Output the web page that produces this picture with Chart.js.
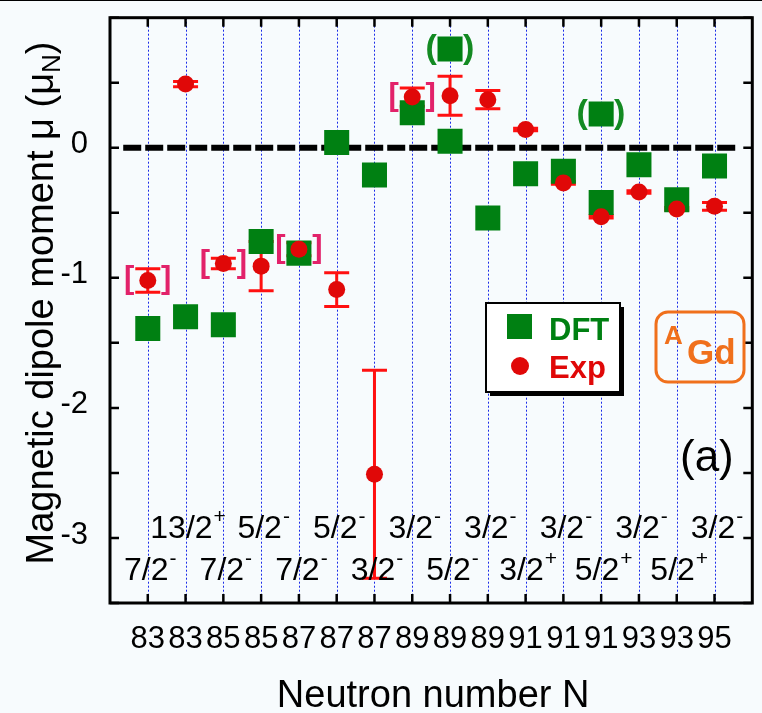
<!DOCTYPE html>
<html>
<head>
<meta charset="utf-8">
<script src="https://cdn.jsdelivr.net/npm/chart.js@4.4.1/dist/chart.umd.min.js"></script>
<style>
  html, body { margin: 0; padding: 0; background: #f7fbfd; overflow: hidden; }
  #wrap { width: 770px; height: 713px; }
</style>
</head>
<body>
<div id="wrap"><canvas id="moments" width="770" height="713"></canvas></div>
<script>
// ── Gd states, one column each along the x axis ──────────────
const neutronN   = [83, 83, 85, 85, 87, 87, 87, 89, 89, 89, 91, 91, 91, 93, 93, 95];
const spinBase   = ["7/2", "13/2", "7/2", "5/2", "7/2", "5/2", "3/2", "3/2", "5/2", "3/2", "3/2", "3/2", "5/2", "3/2", "5/2", "3/2"];
const spinParity = ["-", "+", "-", "-", "-", "-", "-", "-", "-", "-", "+", "-", "+", "-", "+", "-"];

// DFT moments (μN)
const dftMu = [-1.39, -1.30, -1.36, -0.72, -0.81, 0.04, -0.21, 0.27, 0.05, -0.54, -0.20, -0.18, -0.42, -0.13, -0.40, -0.14];
// alternative DFT solutions, shown in parentheses
const dftAltIdx = [8, 12];
const dftAltMu  = [0.76, 0.26];

// measured moments and their uncertainties (μN)
const expMu  = [-1.02, 0.49, -0.89, -0.91, -0.78, -1.09, -2.51, 0.39, 0.40, 0.37, 0.14, -0.27, -0.53, -0.34, -0.47, -0.45];
const expErr = [0.09, 0.02, 0.04, 0.19, 0.05, 0.13, 0.80, 0.07, 0.15, 0.07, 0.01, 0.01, 0.01, 0.01, 0.01, 0.03];
// tentative measurements, shown in square brackets
const bracketIdx = [0, 2, 4, 7];

// dashed μ = 0 reference, x extent in column units
const zeroSpan = [-0.65, 15.62];

const FONT  = '"Liberation Sans", Arial, sans-serif';
const GREEN = "#008012";
const RED   = "#e00808";

function sup(ctx, base, mark, cx, baseY) {
  ctx.font = `32px ${FONT}`;
  const wb = ctx.measureText(base).width;
  ctx.font = `21px ${FONT}`;
  const wm = ctx.measureText(mark).width;
  const x0 = cx - (wb + wm) / 2 + 2;
  ctx.font = `32px ${FONT}`;
  ctx.fillText(base, x0, baseY);
  ctx.font = `21px ${FONT}`;
  ctx.fillText(mark, x0 + wb + 1, baseY - 15);
}

const decorations = {
  id: "decorations",
  beforeDatasetsDraw(chart) {
    const { ctx, chartArea: a, scales: { x, y } } = chart;
    ctx.save();
    // dotted column guides
    ctx.strokeStyle = "#1a2be8";
    ctx.lineWidth = 1;
    ctx.setLineDash([2, 2]);
    neutronN.forEach((_, i) => {
      const px = Math.round(x.getPixelForValue(i)) + 0.5;
      ctx.beginPath();
      ctx.moveTo(px, a.top);
      ctx.lineTo(px, a.bottom);
      ctx.stroke();
    });
    ctx.setLineDash([]);
    // experimental error bars
    ctx.strokeStyle = "#ff1010";
    ctx.lineWidth = 3;
    expMu.forEach((v, i) => {
      const px = x.getPixelForValue(i);
      const hi = y.getPixelForValue(v + expErr[i]);
      const lo = y.getPixelForValue(v - expErr[i]);
      ctx.beginPath();
      ctx.moveTo(px, hi); ctx.lineTo(px, lo);
      ctx.moveTo(px - 12.5, hi); ctx.lineTo(px + 12.5, hi);
      ctx.moveTo(px - 12.5, lo); ctx.lineTo(px + 12.5, lo);
      ctx.stroke();
    });
    ctx.restore();
  },
  afterDatasetsDraw(chart) {
    const { ctx, scales: { x, y } } = chart;
    ctx.save();
    ctx.textAlign = "center";
    ctx.textBaseline = "alphabetic";
    ctx.font = `bold 31px ${FONT}`;
    ctx.fillStyle = "#e2226a";
    bracketIdx.forEach(i => {
      const px = x.getPixelForValue(i), py = y.getPixelForValue(expMu[i]) + 8;
      ctx.fillText("[", px - 18.5, py);
      ctx.fillText("]", px + 18.5, py);
    });
    ctx.font = `bold 34px ${FONT}`;
    ctx.fillStyle = "#138a22";
    dftAltIdx.forEach((i, k) => {
      const px = x.getPixelForValue(i), py = y.getPixelForValue(dftAltMu[k]) + 9;
      ctx.fillText("(", px - 19, py);
      ctx.fillText(")", px + 18.5, py);
    });
    ctx.restore();
  },
  afterDraw(chart) {
    const { ctx, chartArea: a, scales: { x, y } } = chart;
    ctx.save();
    ctx.fillStyle = "#000";
    ctx.fillRect(0, 0, chart.width, 1);

    // frame
    ctx.strokeStyle = "#000";
    ctx.lineWidth = 3;
    ctx.strokeRect(a.left, a.top, a.right - a.left, a.bottom - a.top);

    // inward ticks
    ctx.lineWidth = 2.5;
    ctx.beginPath();
    neutronN.forEach((_, i) => {
      const px = x.getPixelForValue(i);
      ctx.moveTo(px, a.top); ctx.lineTo(px, a.top + 9);
      ctx.moveTo(px, a.bottom); ctx.lineTo(px, a.bottom - 9);
    });
    y.ticks.forEach(t => {
      const py = y.getPixelForValue(t.value);
      ctx.moveTo(a.left, py); ctx.lineTo(a.left + 9, py);
      ctx.moveTo(a.right, py); ctx.lineTo(a.right - 9, py);
    });
    ctx.stroke();

    // spin-parity labels, alternating rows
    ctx.fillStyle = "#000";
    ctx.textAlign = "left";
    spinBase.forEach((s, i) => {
      sup(ctx, s, spinParity[i], x.getPixelForValue(i), i % 2 ? 538 : 580);
    });

    // axis titles
    ctx.textAlign = "center";
    ctx.font = `38px ${FONT}`;
    ctx.fillText("Neutron number N", (a.left + a.right) / 2 + 2, 707);

    ctx.save();
    ctx.translate(53, 303);
    ctx.rotate(-Math.PI / 2);
    ctx.textAlign = "left";
    const head = "Magnetic dipole moment μ (μ";
    ctx.font = `38px ${FONT}`;
    const wh = ctx.measureText(head).width;
    const wt = ctx.measureText(")").width;
    ctx.font = `26px ${FONT}`;
    const wn = ctx.measureText("N").width;
    const x0 = -(wh + wn + wt) / 2;
    ctx.font = `38px ${FONT}`;
    ctx.fillText(head, x0, 0);
    ctx.fillText(")", x0 + wh + wn, 0);
    ctx.font = `26px ${FONT}`;
    ctx.fillText("N", x0 + wh, 7);
    ctx.restore();

    // legend
    ctx.fillStyle = "#000";
    ctx.fillRect(490, 307, 134, 89);
    ctx.fillStyle = "#ffffff";
    ctx.fillRect(486, 303, 134, 89);
    ctx.lineWidth = 2;
    ctx.strokeRect(486, 303, 134, 89);
    ctx.fillStyle = GREEN;
    ctx.fillRect(507, 314, 25, 25);
    ctx.fillStyle = RED;
    ctx.beginPath();
    ctx.arc(520, 366, 9, 0, Math.PI * 2);
    ctx.fill();
    ctx.textAlign = "left";
    ctx.font = `bold 31px ${FONT}`;
    ctx.fillStyle = GREEN;
    ctx.fillText("DFT", 549, 340);
    ctx.fillStyle = RED;
    ctx.fillText("Exp", 549, 378);

    // isotope tag
    ctx.strokeStyle = "#f0701c";
    ctx.lineWidth = 3;
    ctx.beginPath();
    ctx.roundRect(656, 312, 88, 70, 12);
    ctx.stroke();
    ctx.fillStyle = "#f0701c";
    ctx.font = `bold 26px ${FONT}`;
    ctx.fillText("A", 664, 344);
    ctx.font = `bold 35px ${FONT}`;
    ctx.fillText("Gd", 687, 364);

    // panel tag
    ctx.fillStyle = "#000";
    ctx.font = `44px ${FONT}`;
    ctx.fillText("(a)", 680, 471);
    ctx.restore();
  },
};

new Chart(document.getElementById("moments"), {
  type: "scatter",
  data: {
    datasets: [
      {
        label: "Exp",
        data: expMu.map((v, i) => ({ x: i, y: v })),
        pointStyle: "circle",
        pointRadius: 8.5,
        backgroundColor: RED,
        borderWidth: 0,
        order: 1,
      },
      {
        label: "DFT",
        data: dftMu.map((v, i) => ({ x: i, y: v }))
          .concat(dftAltIdx.map((i, k) => ({ x: i, y: dftAltMu[k] }))),
        pointStyle: "rect",
        pointRadius: 17.7,
        backgroundColor: GREEN,
        borderWidth: 0,
        order: 2,
      },
      {
        type: "line",
        label: "zero",
        data: zeroSpan.map(v => ({ x: v, y: 0 })),
        borderColor: "#000",
        borderWidth: 6,
        borderDash: [18, 4],
        pointRadius: 0,
        order: 3,
      },
    ],
  },
  options: {
    responsive: false,
    animation: false,
    events: [],
    layout: { padding: { top: 16, right: 4, left: 0, bottom: 0 } },
    plugins: { legend: { display: false }, tooltip: { enabled: false } },
    scales: {
      x: {
        type: "linear",
        min: -1,
        max: 16,
        grid: { display: false },
        border: { display: false },
        afterBuildTicks: s => { s.ticks = neutronN.map((_, i) => ({ value: i })); },
        afterFit: s => { s.height = 110; s.paddingLeft = 0; s.paddingRight = 0; },
        ticks: {
          autoSkip: false,
          maxRotation: 0,
          minRotation: 0,
          padding: 10,
          color: "#000",
          font: { family: FONT, size: 31 },
          callback: v => neutronN[v] ?? "",
        },
      },
      y: {
        min: -3.5,
        max: 1,
        grid: { display: false },
        border: { display: false },
        afterFit: s => { s.width = 110; s.paddingTop = 0; s.paddingBottom = 0; },
        ticks: {
          stepSize: 0.5,
          padding: 14,
          labelOffset: -3,
          color: "#000",
          font: { family: FONT, size: 31 },
          callback: v => (Number.isInteger(v) && v < 1 ? String(v) : ""),
        },
      },
    },
  },
  plugins: [decorations],
});
</script>
</body>
</html>
